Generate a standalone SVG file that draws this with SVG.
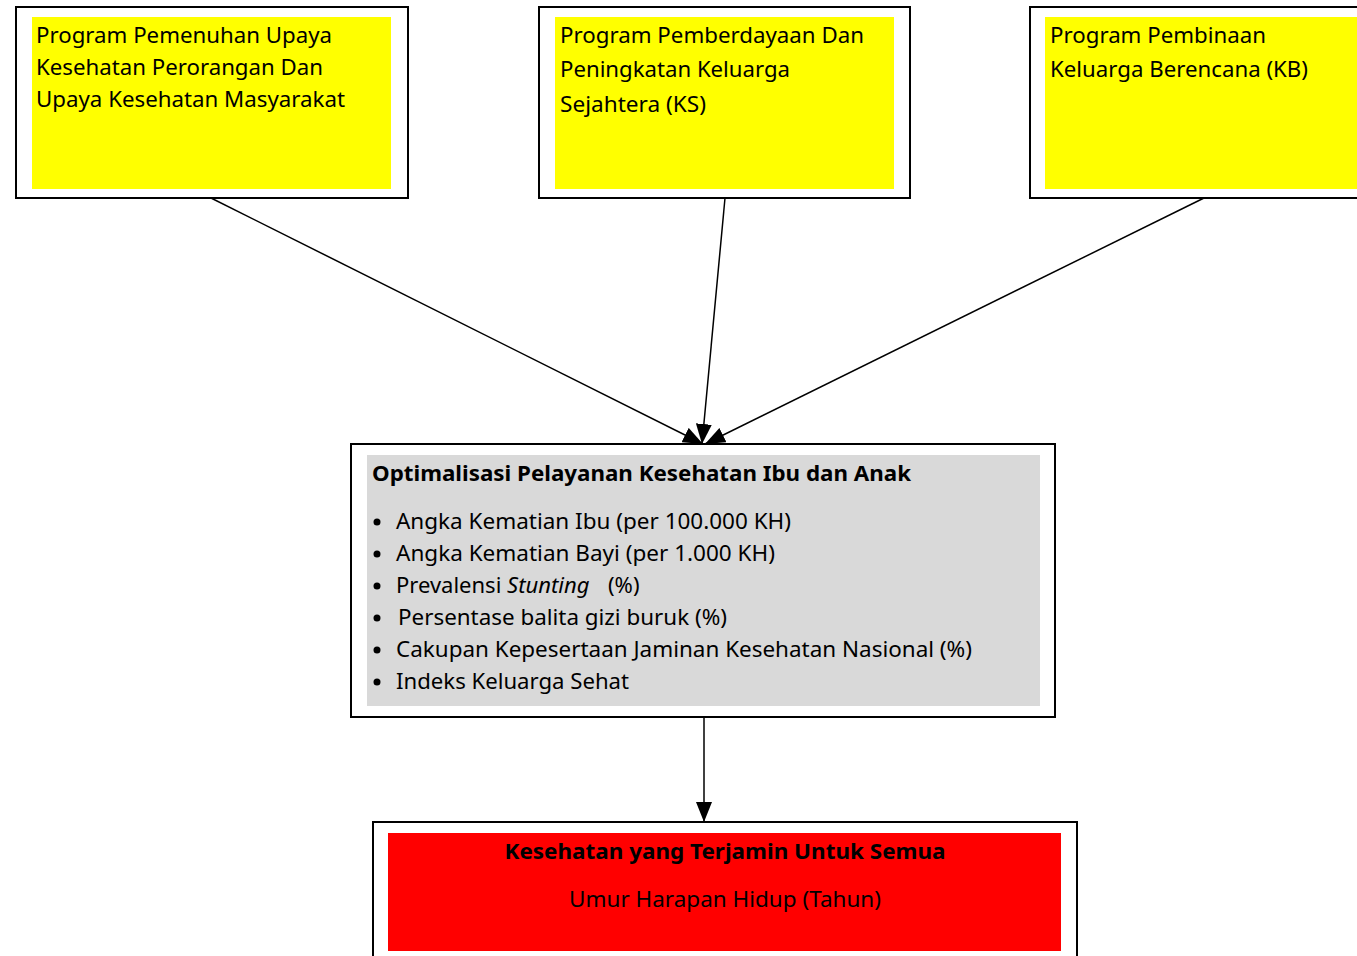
<svg xmlns="http://www.w3.org/2000/svg" width="1357" height="956" viewBox="0 0 1357 956">
<defs>
<style>
.outer{fill:#fff;stroke:#000;stroke-width:2}
.t{font-family:"Noto Sans","Open Sans",sans-serif;font-size:22px;fill:#000}
.b{font-weight:bold}
.conn{stroke:#000;stroke-width:1.5;fill:none}
</style>
<marker id="ahL" viewBox="0 0 20 16" refX="20" refY="8" markerWidth="20" markerHeight="16" markerUnits="userSpaceOnUse" orient="auto">
<path d="M0,0 L20,8 L0,16 Z" fill="#000"/>
</marker>
</defs>
<rect width="1357" height="956" fill="#fff"/>
<g id="connectors">
<line class="conn" x1="211" y1="198" x2="703" y2="444" marker-end="url(#ahL)"/>
<line class="conn" x1="725" y1="198" x2="702" y2="444" marker-end="url(#ahL)"/>
<line class="conn" x1="1204" y1="198" x2="705" y2="444" marker-end="url(#ahL)"/>
<line class="conn" x1="704" y1="717" x2="704" y2="822" marker-end="url(#ahL)"/>
</g>
<g id="node1">
<rect class="outer" x="16" y="7" width="392" height="191"/>
<rect x="32" y="17" width="359" height="172" fill="#ffff00"/>
<text class="t" x="36" y="43" textLength="296" lengthAdjust="spacingAndGlyphs">Program Pemenuhan Upaya</text>
<text class="t" x="36" y="75" textLength="287" lengthAdjust="spacingAndGlyphs">Kesehatan Perorangan Dan</text>
<text class="t" x="36" y="107" textLength="309" lengthAdjust="spacingAndGlyphs">Upaya Kesehatan Masyarakat</text>
</g>
<g id="node2">
<rect class="outer" x="539" y="7" width="371" height="191"/>
<rect x="555" y="17" width="339" height="172" fill="#ffff00"/>
<text class="t" x="560" y="43" textLength="304" lengthAdjust="spacingAndGlyphs">Program Pemberdayaan Dan</text>
<text class="t" x="560" y="77" textLength="230" lengthAdjust="spacingAndGlyphs">Peningkatan Keluarga</text>
<text class="t" x="560" y="112" textLength="146" lengthAdjust="spacingAndGlyphs">Sejahtera (KS)</text>
</g>
<g id="node3">
<rect class="outer" x="1030" y="7" width="340" height="191"/>
<rect x="1045" y="17" width="312" height="172" fill="#ffff00"/>
<text class="t" x="1050" y="43" textLength="216" lengthAdjust="spacingAndGlyphs">Program Pembinaan</text>
<text class="t" x="1050" y="77" textLength="258" lengthAdjust="spacingAndGlyphs">Keluarga Berencana (KB)</text>
</g>
<g id="node4">
<rect class="outer" x="351" y="444" width="704" height="273"/>
<rect x="367" y="455" width="673" height="251" fill="#d9d9d9"/>
<text class="t b" x="372" y="481" textLength="539" lengthAdjust="spacingAndGlyphs">Optimalisasi Pelayanan Kesehatan Ibu dan Anak</text>
<g fill="#000">
<circle cx="377" cy="522" r="3.5"/>
<circle cx="377" cy="554" r="3.5"/>
<circle cx="377" cy="586" r="3.5"/>
<circle cx="377" cy="618" r="3.5"/>
<circle cx="377" cy="650" r="3.5"/>
<circle cx="377" cy="682" r="3.5"/>
</g>
<text class="t" x="396" y="529" textLength="395" lengthAdjust="spacingAndGlyphs">Angka Kematian Ibu (per 100.000 KH)</text>
<text class="t" x="396" y="561" textLength="379" lengthAdjust="spacingAndGlyphs">Angka Kematian Bayi (per 1.000 KH)</text>
<text class="t" x="396" y="593">Prevalensi <tspan font-style="italic">Stunting</tspan><tspan x="608">(%)</tspan></text>
<text class="t" x="398" y="625" textLength="329" lengthAdjust="spacingAndGlyphs">Persentase balita gizi buruk (%)</text>
<text class="t" x="396" y="657" textLength="576" lengthAdjust="spacingAndGlyphs">Cakupan Kepesertaan Jaminan Kesehatan Nasional (%)</text>
<text class="t" x="396" y="689" textLength="233" lengthAdjust="spacingAndGlyphs">Indeks Keluarga Sehat</text>
</g>
<g id="node5">
<rect class="outer" x="373" y="822" width="704" height="150"/>
<rect x="388" y="833" width="673" height="118" fill="#ff0000"/>
<text class="t b" x="725" y="859" text-anchor="middle" textLength="441" lengthAdjust="spacingAndGlyphs">Kesehatan yang Terjamin Untuk Semua</text>
<text class="t" x="725" y="907" text-anchor="middle" textLength="312" lengthAdjust="spacingAndGlyphs">Umur Harapan Hidup (Tahun)</text>
</g>
</svg>
